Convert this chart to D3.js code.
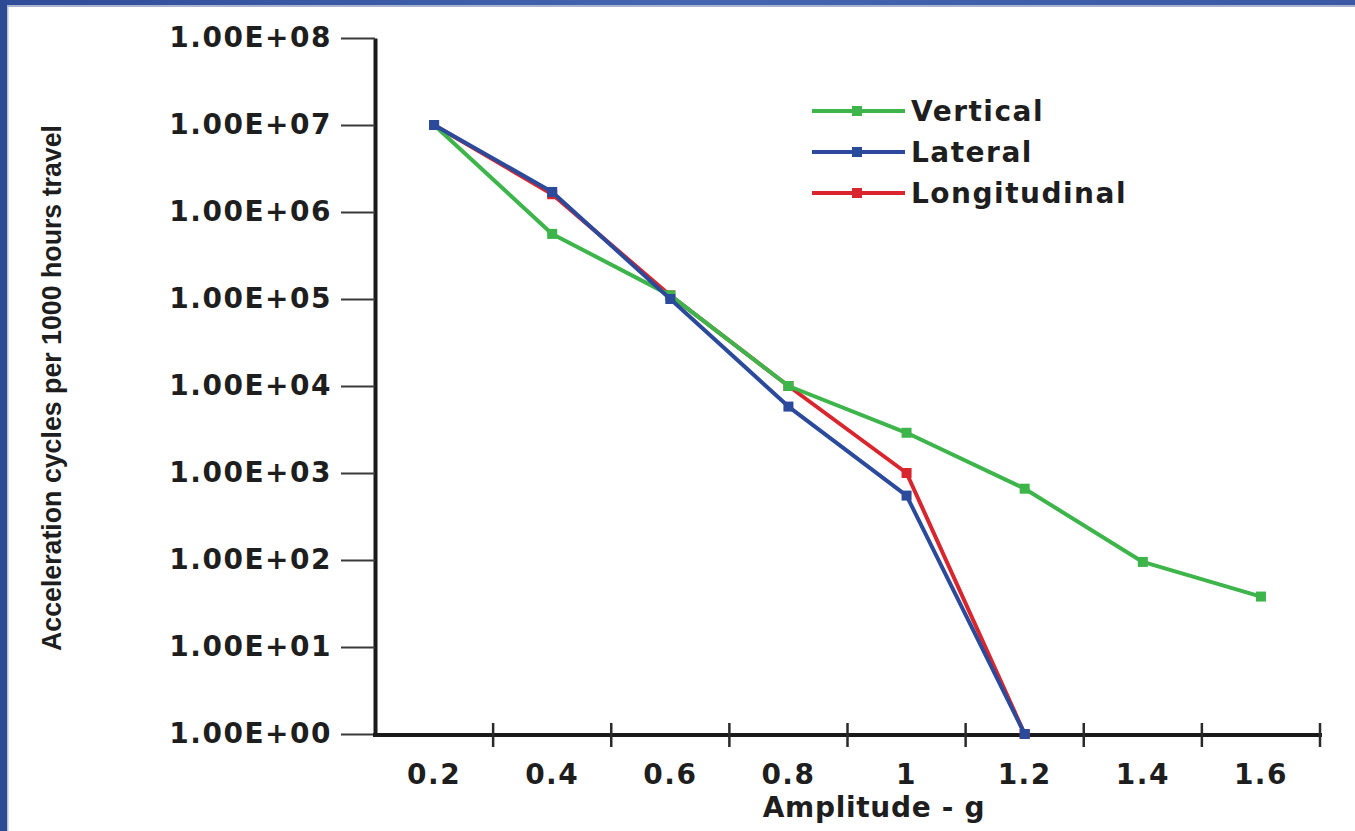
<!DOCTYPE html>
<html>
<head>
<meta charset="utf-8">
<script src="https://cdn.jsdelivr.net/npm/d3@7"></script>
<style>
  html, body { margin: 0; padding: 0; background: #fff; overflow: hidden; }
  text { font-family: "DejaVu Sans", Verdana, sans-serif; font-weight: bold; fill: #1e1e1e; }
</style>
</head>
<body>
<script>
// amplitude categories (g)
var amplitudes = ["0.2", "0.4", "0.6", "0.8", "1", "1.2", "1.4", "1.6"]
var yTicks = [1, 1e1, 1e2, 1e3, 1e4, 1e5, 1e6, 1e7, 1e8]

// cycles per 1000 hours
var vertical     = [1e7, 5.6e5, 1.1e5, 1.0e4, 2.9e3, 6.6e2, 95, 38]
var lateral      = [1e7, 1.7e6, 1.0e5, 5.8e3, 5.5e2, 1]
var longitudinal = [1e7, 1.6e6, 1.1e5, 1.0e4, 1.0e3, 1]

var seriesNames  = ["Vertical", "Lateral", "Longitudinal"]
var seriesColors = ["#3db54a", "#2b4a9b", "#d9262e"]

var w = 1355, h = 831

var svg = d3.select("body").append("svg")
    .attr("width", w).attr("height", h)

// blue frame (top and left strips)
var grad = svg.append("defs").append("linearGradient")
    .attr("id", "frame").attr("x1", 0).attr("x2", 1).attr("y1", 0).attr("y2", 0)
grad.append("stop").attr("offset", "0%").attr("stop-color", "#2f4c98")
grad.append("stop").attr("offset", "50%").attr("stop-color", "#4565b0")
grad.append("stop").attr("offset", "100%").attr("stop-color", "#3a58a4")
svg.append("rect").attr("x", 0).attr("y", 0).attr("width", w).attr("height", 5).attr("fill", "url(#frame)")
svg.append("rect").attr("x", 0).attr("y", 5).attr("width", w).attr("height", 2).attr("fill", "#aab4cc")
svg.append("rect").attr("x", 0).attr("y", 0).attr("width", 7).attr("height", h).attr("fill", "#2c4a94")
svg.append("rect").attr("x", 7).attr("y", 7).attr("width", 1.5).attr("height", h).attr("fill", "#b8c0d4")

var x = d3.scaleBand().domain(amplitudes).range([375, 1320])
var y = d3.scaleLog().domain([1, 1e8]).range([734, 38])

function sci(d) {
  var e = Math.round(Math.log10(d))
  return "1.00E+" + (e < 10 ? "0" + e : e)
}

// y axis
var yAxis = svg.append("g").attr("transform", "translate(375,0)")
    .call(d3.axisLeft(y).tickValues(yTicks).tickFormat(sci).tickSize(34).tickSizeOuter(0).tickPadding(9))
yAxis.select(".domain").attr("stroke", "#1a1a1a").attr("stroke-width", 4)
yAxis.selectAll(".tick line").attr("stroke", "#3a3a3a").attr("stroke-width", 2)
yAxis.selectAll(".tick text")
    .style("font-size", "28px").style("letter-spacing", "1.5px")
    .attr("fill", "#1e1e1e")

// x axis: labels centred in bands, tick marks on band edges
var xAxis = svg.append("g").attr("transform", "translate(0,735)")
    .call(d3.axisBottom(x).tickSize(0).tickPadding(29))
xAxis.select(".domain").remove()
xAxis.selectAll(".tick text")
    .style("font-size", "28px").style("letter-spacing", "1.5px")
    .attr("fill", "#1e1e1e")

svg.append("line")
    .attr("x1", 373).attr("x2", x.range()[1] + 2)
    .attr("y1", 735).attr("y2", 735)
    .attr("stroke", "#1a1a1a").attr("stroke-width", 4)

svg.append("g").selectAll("line")
    .data(amplitudes)
  .enter().append("line")
    .attr("x1", function(d) { return x(d) + x.bandwidth() })
    .attr("x2", function(d) { return x(d) + x.bandwidth() })
    .attr("y1", 723).attr("y2", 747)
    .attr("stroke", "#2a2a2a").attr("stroke-width", 2.5)

// axis titles
svg.append("text")
    .attr("transform", "translate(61,388) rotate(-90)")
    .attr("text-anchor", "middle")
    .attr("textLength", 526).attr("lengthAdjust", "spacingAndGlyphs")
    .style("font-family", "'Liberation Sans Narrow', 'Liberation Sans', sans-serif")
    .style("font-size", "27px")
    .text("Acceleration cycles per 1000 hours travel")

svg.append("text")
    .attr("x", 874).attr("y", 817)
    .attr("text-anchor", "middle")
    .style("font-size", "28px").style("letter-spacing", "0.7px")
    .text("Amplitude - g")

// series, drawn bottom to top
var series = [
  { name: "Longitudinal", values: longitudinal, color: seriesColors[2] },
  { name: "Vertical",     values: vertical,     color: seriesColors[0] },
  { name: "Lateral",      values: lateral,      color: seriesColors[1] }
]

var line = d3.line()
    .x(function(d, i) { return x(amplitudes[i]) + x.bandwidth() / 2 })
    .y(function(d) { return y(d) })

series.forEach(function(s) {
  var g = svg.append("g")
  g.append("path")
      .datum(s.values)
      .attr("d", line)
      .attr("fill", "none")
      .attr("stroke", s.color)
      .attr("stroke-width", 4)
      .attr("stroke-linejoin", "round")
  g.selectAll("rect")
      .data(s.values)
    .enter().append("rect")
      .attr("x", function(d, i) { return x(amplitudes[i]) + x.bandwidth() / 2 - 5 })
      .attr("y", function(d) { return y(d) - 5 })
      .attr("width", 10).attr("height", 10)
      .attr("fill", s.color)
})

// legend
var legend = svg.append("g").selectAll("g")
    .data(seriesNames)
  .enter().append("g")
    .attr("transform", function(d, i) { return "translate(812," + (111 + i * 41) + ")" })

legend.append("line")
    .attr("x1", 0).attr("x2", 93).attr("y1", 0).attr("y2", 0)
    .attr("stroke", function(d, i) { return seriesColors[i] })
    .attr("stroke-width", 4)
legend.append("rect")
    .attr("x", 40).attr("y", -5).attr("width", 10).attr("height", 10)
    .attr("fill", function(d, i) { return seriesColors[i] })
legend.append("text")
    .attr("x", 99).attr("y", 10)
    .style("font-size", "28px").style("letter-spacing", "1.5px")
    .text(function(d) { return d })
</script>
</body>
</html>
